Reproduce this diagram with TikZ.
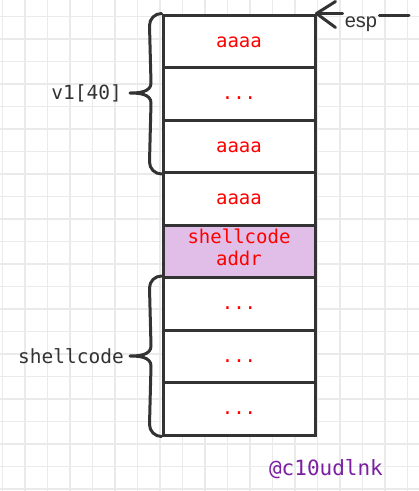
\documentclass[tikz,border=0pt]{standalone}
\usepackage{fontspec}
\setmainfont{Liberation Sans}
\setmonofont{DejaVu Sans Mono}
\usetikzlibrary{calc}
\definecolor{ink}{HTML}{333333}
\definecolor{gridc}{HTML}{EAEAEA}
\definecolor{pinkc}{HTML}{E1BEE7}
\definecolor{wm}{HTML}{7B1FA2}
\begin{document}
\begin{tikzpicture}[x=1pt,y=1pt,
  cell/.style={draw=ink, line width=3pt, fill=white, minimum width=152pt, minimum height=52.5pt, inner sep=0pt,
    font=\ttfamily\fontsize{19}{22}\selectfont, text=red, text height=11.5pt, text depth=0pt},
  celltext/.style={font=\ttfamily\fontsize{19}{22}\selectfont, text=red, inner sep=0pt, anchor=base},
  brace/.style={draw=ink, line width=3pt, line cap=round, line join=round},
  lab/.style={text=ink, font=\ttfamily\fontsize{19.5}{22}\selectfont, anchor=east, inner sep=0pt}
]
\useasboundingbox (0,0) rectangle (419,-491);
% background grid
\foreach \k in {0,...,18} {\draw[gridc, line width=1.5pt] (2.7+22.5*\k,0) -- (2.7+22.5*\k,-491);}
\foreach \k in {0,...,21} {\draw[gridc, line width=1.5pt] (0,-16.7-22.5*\k) -- (419,-16.7-22.5*\k);}
% stack cells
\node[cell] (c1) at (239,-41.25) {aaaa};
\node[cell] (c2) at (239,-93.75) {...};
\node[cell] (c3) at (239,-146.25) {aaaa};
\node[cell] (c4) at (239,-198.75) {aaaa};
\node[cell, fill=pinkc] (c5) at (239,-251.25) {};
\node[cell] (c6) at (239,-303.75) {...};
\node[cell] (c7) at (239,-356.25) {...};
\node[cell] (c8) at (239,-408.75) {...};
\node[celltext] (t5a) at (239,-243) {shellcode};
\node[celltext] (t5b) at (239,-265) {addr};
% braces
\coordinate (tipA) at (130,-93);
\coordinate (tipB) at (130,-356);
\draw[brace] (c1.north west) to[out=180,in=90] ($(c1.north west)+(-12,-12)$)
  -- ($(tipA)+(21,10)$) to[out=-90,in=0] (tipA) to[out=0,in=90] ($(tipA)+(21,-10)$)
  -- ($(c3.south west)+(-12,12)$) to[out=-90,in=180] (c3.south west);
\draw[brace] (c6.north west) to[out=180,in=90] ($(c6.north west)+(-12,-12)$)
  -- ($(tipB)+(21,10)$) to[out=-90,in=0] (tipB) to[out=0,in=90] ($(tipB)+(21,-10)$)
  -- ($(c8.south west)+(-12,12)$) to[out=-90,in=180] (c8.south west);
\node[lab] (lv1) at (122,-93) {v1[40]};
\node[lab] (lsc) at (124,-356) {shellcode};
% esp pointer
\node[text=ink, font=\fontsize{20}{22}\selectfont, anchor=base, inner xsep=2pt] (esp) at (361,-27) {esp};
\coordinate (espR) at (409,-15);
\draw[brace] (espR) -- (esp.east |- espR);
\draw[brace] (esp.west |- c1.north east) -- (c1.north east);
\draw[brace] ($(c1.north east)+(19,12)$) -- (c1.north east) -- ($(c1.north east)+(19,-14)$);
% watermark
\node[text=wm, font=\ttfamily\fontsize{21}{24}\selectfont] (wmk) at (326,-469) {@c10udlnk};
\end{tikzpicture}
\end{document}
